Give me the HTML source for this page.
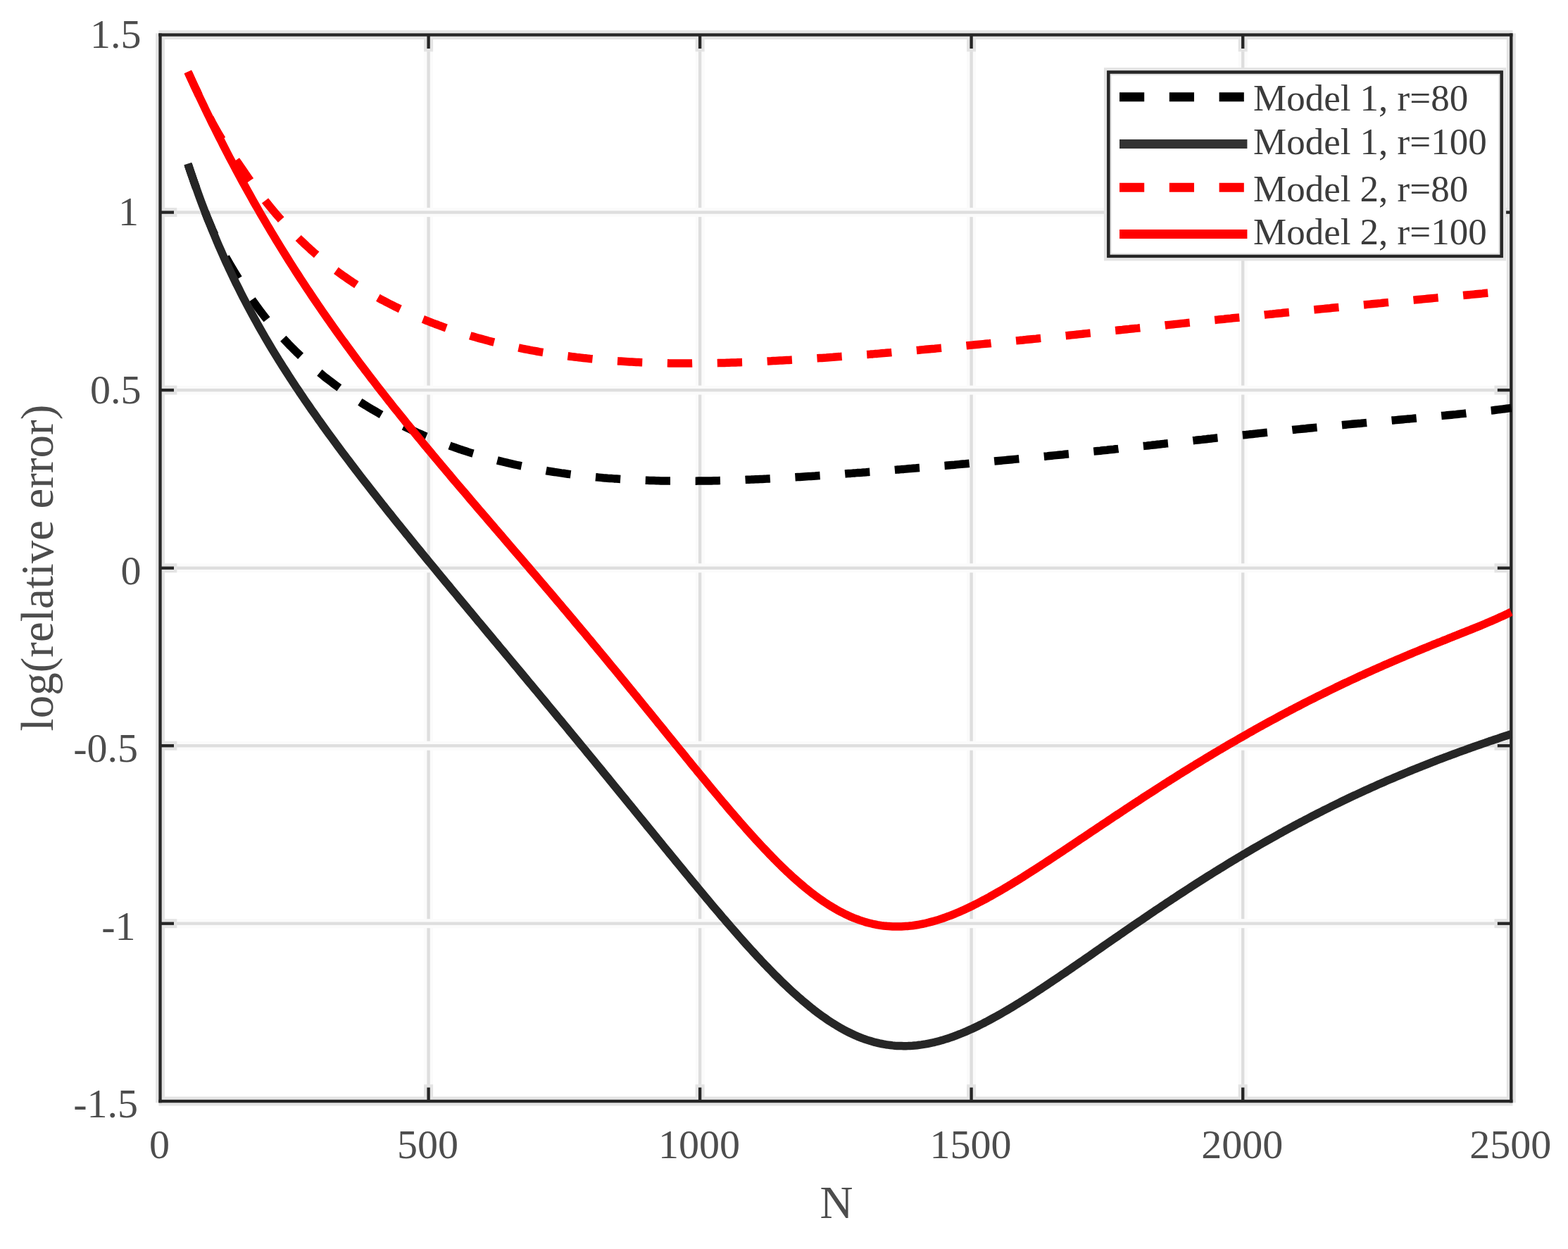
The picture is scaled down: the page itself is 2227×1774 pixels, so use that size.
<!DOCTYPE html>
<html lang="en"><head><meta charset="utf-8"><title>log(relative error) vs N</title>
<style>
html,body{margin:0;padding:0;background:#fff;}
svg{display:block;}
text{font-family:"Liberation Serif","DejaVu Serif",serif;fill:#4d4d4d;}
.tk{font-size:58px;}
.lb{font-size:65px;}
.lg{font-size:53px;fill:#3c3c3c;}
</style></head><body>
<svg xmlns="http://www.w3.org/2000/svg" width="2227" height="1774" viewBox="0 0 2227 1774">
<rect x="0" y="0" width="2227" height="1774" fill="#ffffff"/>
<g id="grid">
<rect x="602.11" y="49.50" width="12.99" height="1514.60" fill="#fbfbfb"/>
<rect x="606.44" y="49.50" width="4.33" height="1514.60" fill="#dedede"/>
<rect x="987.61" y="49.50" width="12.99" height="1514.60" fill="#fbfbfb"/>
<rect x="991.94" y="49.50" width="4.33" height="1514.60" fill="#dedede"/>
<rect x="1373.11" y="49.50" width="12.99" height="1514.60" fill="#fbfbfb"/>
<rect x="1377.43" y="49.50" width="4.33" height="1514.60" fill="#dedede"/>
<rect x="1758.71" y="49.50" width="12.99" height="1514.60" fill="#fbfbfb"/>
<rect x="1763.04" y="49.50" width="4.33" height="1514.60" fill="#dedede"/>
<rect x="227.50" y="295.11" width="1918.80" height="12.99" fill="#fbfbfb"/>
<rect x="227.50" y="299.44" width="1918.80" height="4.33" fill="#dedede"/>
<rect x="227.50" y="547.61" width="1918.80" height="12.99" fill="#fbfbfb"/>
<rect x="227.50" y="551.94" width="1918.80" height="4.33" fill="#dedede"/>
<rect x="227.50" y="800.30" width="1918.80" height="12.99" fill="#fbfbfb"/>
<rect x="227.50" y="804.63" width="1918.80" height="4.33" fill="#dedede"/>
<rect x="227.50" y="1052.71" width="1918.80" height="12.99" fill="#fbfbfb"/>
<rect x="227.50" y="1057.04" width="1918.80" height="4.33" fill="#dedede"/>
<rect x="227.50" y="1305.21" width="1918.80" height="12.99" fill="#fbfbfb"/>
<rect x="227.50" y="1309.54" width="1918.80" height="4.33" fill="#dedede"/>
</g>
<g id="axes">
<rect x="225.34" y="43.01" width="1923.13" height="12.99" fill="#e4e4e4"/>
<rect x="225.34" y="1557.61" width="1923.13" height="12.99" fill="#e4e4e4"/>
<rect x="221.00" y="47.34" width="12.99" height="1518.93" fill="#e4e4e4"/>
<rect x="2139.81" y="47.34" width="12.99" height="1518.93" fill="#e4e4e4"/>
<rect x="602.11" y="49.50" width="12.99" height="23.81" fill="#e4e4e4"/>
<rect x="602.11" y="1540.29" width="12.99" height="23.81" fill="#e4e4e4"/>
<rect x="987.61" y="49.50" width="12.99" height="23.81" fill="#e4e4e4"/>
<rect x="987.61" y="1540.29" width="12.99" height="23.81" fill="#e4e4e4"/>
<rect x="1373.11" y="49.50" width="12.99" height="23.81" fill="#e4e4e4"/>
<rect x="1373.11" y="1540.29" width="12.99" height="23.81" fill="#e4e4e4"/>
<rect x="1758.71" y="49.50" width="12.99" height="23.81" fill="#e4e4e4"/>
<rect x="1758.71" y="1540.29" width="12.99" height="23.81" fill="#e4e4e4"/>
<rect x="227.50" y="295.11" width="23.81" height="12.99" fill="#e4e4e4"/>
<rect x="2122.49" y="295.11" width="23.82" height="12.99" fill="#e4e4e4"/>
<rect x="227.50" y="547.61" width="23.81" height="12.99" fill="#e4e4e4"/>
<rect x="2122.49" y="547.61" width="23.82" height="12.99" fill="#e4e4e4"/>
<rect x="227.50" y="800.30" width="23.81" height="12.99" fill="#e4e4e4"/>
<rect x="2122.49" y="800.30" width="23.82" height="12.99" fill="#e4e4e4"/>
<rect x="227.50" y="1052.71" width="23.81" height="12.99" fill="#e4e4e4"/>
<rect x="2122.49" y="1052.71" width="23.82" height="12.99" fill="#e4e4e4"/>
<rect x="227.50" y="1305.21" width="23.81" height="12.99" fill="#e4e4e4"/>
<rect x="2122.49" y="1305.21" width="23.82" height="12.99" fill="#e4e4e4"/>
<rect x="225.34" y="47.34" width="1923.13" height="4.33" fill="#262626"/>
<rect x="225.34" y="1561.93" width="1923.13" height="4.33" fill="#262626"/>
<rect x="225.34" y="47.34" width="4.33" height="1518.93" fill="#262626"/>
<rect x="2144.14" y="47.34" width="4.33" height="1518.93" fill="#262626"/>
<rect x="606.44" y="49.50" width="4.33" height="19.48" fill="#262626"/>
<rect x="606.44" y="1544.62" width="4.33" height="19.48" fill="#262626"/>
<rect x="991.94" y="49.50" width="4.33" height="19.48" fill="#262626"/>
<rect x="991.94" y="1544.62" width="4.33" height="19.48" fill="#262626"/>
<rect x="1377.43" y="49.50" width="4.33" height="19.48" fill="#262626"/>
<rect x="1377.43" y="1544.62" width="4.33" height="19.48" fill="#262626"/>
<rect x="1763.04" y="49.50" width="4.33" height="19.48" fill="#262626"/>
<rect x="1763.04" y="1544.62" width="4.33" height="19.48" fill="#262626"/>
<rect x="227.50" y="299.44" width="19.48" height="4.33" fill="#262626"/>
<rect x="2126.82" y="299.44" width="19.49" height="4.33" fill="#262626"/>
<rect x="227.50" y="551.94" width="19.48" height="4.33" fill="#262626"/>
<rect x="2126.82" y="551.94" width="19.49" height="4.33" fill="#262626"/>
<rect x="227.50" y="804.63" width="19.48" height="4.33" fill="#262626"/>
<rect x="2126.82" y="804.63" width="19.49" height="4.33" fill="#262626"/>
<rect x="227.50" y="1057.04" width="19.48" height="4.33" fill="#262626"/>
<rect x="2126.82" y="1057.04" width="19.49" height="4.33" fill="#262626"/>
<rect x="227.50" y="1309.54" width="19.48" height="4.33" fill="#262626"/>
<rect x="2126.82" y="1309.54" width="19.49" height="4.33" fill="#262626"/>
</g>
<clipPath id="cp"><rect x="225.34" y="47.34" width="1923.13" height="1518.93"/></clipPath>
<g id="curves" fill="none" stroke-width="11.5" stroke-linejoin="round" clip-path="url(#cp)">
<path d="M266.8,232.5 L269.9,241.9 L273.1,251.1 L276.2,260.2 L279.4,269.0 L282.5,277.7 L285.6,286.2 L288.8,294.5 L291.9,302.6 L295.0,310.5 L298.2,318.1 L301.3,325.5 L304.5,332.6 L307.6,339.5 L310.7,346.0 L313.9,352.3 L317.0,358.4 L320.1,364.2 L323.3,369.7 L326.4,375.1 L329.6,380.4 L332.7,385.6 L335.8,390.7 L339.0,396.0 L342.1,401.1 L345.2,406.2 L348.4,411.1 L351.5,415.9 L354.7,420.6 L357.8,425.2 L360.9,429.7 L364.1,434.1 L367.2,438.4 L370.3,442.6 L373.5,446.7 L376.6,450.7 L379.8,454.7 L382.9,458.5 L386.0,462.3 L389.2,466.0 L392.3,469.6 L395.4,473.2 L398.6,476.7 L401.7,480.1 L404.9,483.5 L408.0,486.8 L411.1,490.1 L414.3,493.3 L417.4,496.4 L420.5,499.5 L423.7,502.5 L426.8,505.5 L430.0,508.5 L433.1,511.4 L436.2,514.2 L439.4,517.0 L442.5,519.7 L445.7,522.4 L448.8,525.1 L451.9,527.7 L455.1,530.3 L458.2,532.9 L461.3,535.4 L464.5,537.9 L467.6,540.3 L470.8,542.7 L473.9,545.1 L477.0,547.4 L480.2,549.7 L483.3,552.0 L486.4,554.2 L489.6,556.4 L492.7,558.6 L495.9,560.7 L499.0,562.9 L502.1,565.0 L505.3,567.0 L508.4,569.0 L511.5,571.0 L514.7,573.0 L517.8,575.0 L521.0,576.9 L524.1,578.8 L527.2,580.7 L530.4,582.5 L533.5,584.3 L536.6,586.1 L539.8,587.9 L542.9,589.7 L546.1,591.4 L549.2,593.1 L552.3,594.8 L555.5,596.4 L558.6,598.1 L561.7,599.7 L564.9,601.3 L568.0,602.8 L571.2,604.4 L574.3,605.9 L577.4,607.4 L580.6,608.9 L583.7,610.4 L586.8,611.8 L590.0,613.3 L593.1,614.7 L596.3,616.1 L599.4,617.4 L602.5,618.8 L605.7,620.1 L608.8,621.4 L612.0,622.7 L615.1,624.0 L618.2,625.3 L621.4,626.5 L624.5,627.7 L627.6,628.9 L630.8,630.1 L633.9,631.3 L637.1,632.4 L640.2,633.6 L643.3,634.7 L646.5,635.8 L649.6,636.9 L652.7,638.0 L655.9,639.0 L659.0,640.1 L662.2,641.1 L665.3,642.1 L668.4,643.1 L671.6,644.1 L674.7,645.0 L677.8,646.0 L681.0,646.9 L684.1,647.8 L687.3,648.7 L690.4,649.6 L693.5,650.5 L696.7,651.3 L699.8,652.2 L702.9,653.0 L706.1,653.8 L709.2,654.6 L712.4,655.4 L715.5,656.2 L718.6,656.9 L721.8,657.7 L724.9,658.4 L728.0,659.1 L731.2,659.8 L734.3,660.5 L737.5,661.2 L740.6,661.9 L743.7,662.5 L746.9,663.2 L750.0,663.8 L753.1,664.4 L756.3,665.0 L759.4,665.6 L762.6,666.2 L765.7,666.8 L768.8,667.4 L772.0,667.9 L775.1,668.4 L778.2,669.0 L781.4,669.5 L784.5,670.0 L787.7,670.5 L790.8,670.9 L793.9,671.4 L797.1,671.9 L800.2,672.3 L803.4,672.8 L806.5,673.2 L809.6,673.6 L812.8,674.0 L815.9,674.4 L819.0,674.8 L822.2,675.2 L825.3,675.5 L828.5,675.9 L831.6,676.2 L834.7,676.6 L837.9,676.9 L841.0,677.2 L844.1,677.5 L847.3,677.8 L850.4,678.1 L853.6,678.4 L856.7,678.7 L859.8,678.9 L863.0,679.2 L866.1,679.4 L869.2,679.6 L872.4,679.9 L875.5,680.1 L878.7,680.3 L881.8,680.5 L884.9,680.7 L888.1,680.9 L891.2,681.1 L894.3,681.2 L897.5,681.4 L900.6,681.6 L903.8,681.7 L906.9,681.9 L910.0,682.0 L913.2,682.1 L916.3,682.2 L919.4,682.3 L922.6,682.4 L925.7,682.5 L928.9,682.6 L932.0,682.7 L935.1,682.8 L938.3,682.9 L941.4,682.9 L944.5,683.0 L947.7,683.0 L950.8,683.1 L954.0,683.1 L957.1,683.2 L960.2,683.2 L963.4,683.2 L966.5,683.2 L969.7,683.2 L972.8,683.2 L975.9,683.2 L979.1,683.2 L982.2,683.2 L985.3,683.2 L988.5,683.2 L991.6,683.1 L994.8,683.1 L997.9,683.1 L1001.0,683.0 L1004.2,683.0 L1007.3,682.9 L1010.4,682.9 L1013.6,682.8 L1016.7,682.7 L1019.9,682.7 L1023.0,682.6 L1026.1,682.5 L1029.3,682.4 L1032.4,682.3 L1035.5,682.2 L1038.7,682.1 L1041.8,682.0 L1045.0,681.9 L1048.1,681.8 L1051.2,681.7 L1054.4,681.6 L1057.5,681.5 L1060.6,681.3 L1063.8,681.2 L1066.9,681.1 L1070.1,680.9 L1073.2,680.8 L1076.3,680.7 L1079.5,680.5 L1082.6,680.4 L1085.7,680.2 L1088.9,680.1 L1092.0,679.9 L1095.2,679.7 L1098.3,679.6 L1101.4,679.4 L1104.6,679.2 L1107.7,679.1 L1110.8,678.9 L1114.0,678.7 L1117.1,678.5 L1120.3,678.3 L1123.4,678.2 L1126.5,678.0 L1129.7,677.8 L1132.8,677.6 L1136.0,677.4 L1139.1,677.2 L1142.2,677.0 L1145.4,676.8 L1148.5,676.6 L1151.6,676.4 L1154.8,676.2 L1157.9,676.0 L1161.1,675.7 L1164.2,675.5 L1167.3,675.3 L1170.5,675.1 L1173.6,674.9 L1176.7,674.7 L1179.9,674.4 L1183.0,674.2 L1186.2,674.0 L1189.3,673.8 L1192.4,673.5 L1195.6,673.3 L1198.7,673.1 L1201.8,672.8 L1205.0,672.6 L1208.1,672.4 L1211.3,672.1 L1214.4,671.9 L1217.5,671.6 L1220.7,671.4 L1223.8,671.2 L1226.9,670.9 L1230.1,670.7 L1233.2,670.4 L1236.4,670.2 L1239.5,669.9 L1242.6,669.7 L1245.8,669.4 L1248.9,669.2 L1252.0,668.9 L1255.2,668.7 L1258.3,668.4 L1261.5,668.2 L1264.6,667.9 L1267.7,667.7 L1270.9,667.4 L1274.0,667.1 L1277.1,666.9 L1280.3,666.6 L1283.4,666.4 L1286.6,666.1 L1289.7,665.8 L1292.8,665.6 L1296.0,665.3 L1299.1,665.1 L1302.3,664.8 L1305.4,664.5 L1308.5,664.3 L1311.7,664.0 L1314.8,663.7 L1317.9,663.4 L1321.1,663.2 L1324.2,662.9 L1327.4,662.6 L1330.5,662.4 L1333.6,662.1 L1336.8,661.8 L1339.9,661.5 L1343.0,661.3 L1346.2,661.0 L1349.3,660.7 L1352.5,660.4 L1355.6,660.2 L1358.7,659.9 L1361.9,659.6 L1365.0,659.3 L1368.1,659.0 L1371.3,658.8 L1374.4,658.5 L1377.6,658.2 L1380.7,657.9 L1383.8,657.6 L1387.0,657.4 L1390.1,657.1 L1393.2,656.8 L1396.4,656.5 L1399.5,656.2 L1402.7,655.9 L1405.8,655.6 L1408.9,655.3 L1412.1,655.1 L1415.2,654.8 L1418.3,654.5 L1421.5,654.2 L1424.6,653.9 L1427.8,653.6 L1430.9,653.3 L1434.0,653.0 L1437.2,652.7 L1440.3,652.4 L1443.4,652.1 L1446.6,651.8 L1449.7,651.5 L1452.9,651.2 L1456.0,650.9 L1459.1,650.6 L1462.3,650.3 L1465.4,650.0 L1468.6,649.7 L1471.7,649.4 L1474.8,649.1 L1478.0,648.8 L1481.1,648.5 L1484.2,648.2 L1487.4,647.9 L1490.5,647.5 L1493.7,647.2 L1496.8,646.9 L1499.9,646.6 L1503.1,646.3 L1506.2,646.0 L1509.3,645.7 L1512.5,645.3 L1515.6,645.0 L1518.8,644.7 L1521.9,644.4 L1525.0,644.1 L1528.2,643.7 L1531.3,643.4 L1534.4,643.1 L1537.6,642.8 L1540.7,642.5 L1543.9,642.1 L1547.0,641.8 L1550.1,641.5 L1553.3,641.1 L1556.4,640.8 L1559.5,640.5 L1562.7,640.2 L1565.8,639.8 L1569.0,639.5 L1572.1,639.2 L1575.2,638.8 L1578.4,638.5 L1581.5,638.2 L1584.6,637.8 L1587.8,637.5 L1590.9,637.1 L1594.1,636.8 L1597.2,636.5 L1600.3,636.1 L1603.5,635.8 L1606.6,635.5 L1609.7,635.1 L1612.9,634.8 L1616.0,634.4 L1619.2,634.1 L1622.3,633.7 L1625.4,633.4 L1628.6,633.1 L1631.7,632.7 L1634.9,632.4 L1638.0,632.0 L1641.1,631.7 L1644.3,631.3 L1647.4,631.0 L1650.5,630.6 L1653.7,630.3 L1656.8,629.9 L1660.0,629.6 L1663.1,629.2 L1666.2,628.9 L1669.4,628.5 L1672.5,628.2 L1675.6,627.8 L1678.8,627.5 L1681.9,627.1 L1685.1,626.8 L1688.2,626.4 L1691.3,626.1 L1694.5,625.7 L1697.6,625.4 L1700.7,625.0 L1703.9,624.7 L1707.0,624.4 L1710.2,624.0 L1713.3,623.7 L1716.4,623.3 L1719.6,623.0 L1722.7,622.6 L1725.8,622.3 L1729.0,621.9 L1732.1,621.6 L1735.3,621.2 L1738.4,620.9 L1741.5,620.5 L1744.7,620.2 L1747.8,619.9 L1750.9,619.5 L1754.1,619.2 L1757.2,618.8 L1760.4,618.5 L1763.5,618.1 L1766.6,617.8 L1769.8,617.5 L1772.9,617.1 L1776.0,616.8 L1779.2,616.5 L1782.3,616.1 L1785.5,615.8 L1788.6,615.4 L1791.7,615.1 L1794.9,614.8 L1798.0,614.4 L1801.1,614.1 L1804.3,613.8 L1807.4,613.5 L1810.6,613.1 L1813.7,612.8 L1816.8,612.5 L1820.0,612.2 L1823.1,611.8 L1826.3,611.5 L1829.4,611.2 L1832.5,610.9 L1835.7,610.5 L1838.8,610.2 L1841.9,609.9 L1845.1,609.6 L1848.2,609.3 L1851.4,609.0 L1854.5,608.7 L1857.6,608.3 L1860.8,608.0 L1863.9,607.7 L1867.0,607.4 L1870.2,607.1 L1873.3,606.8 L1876.5,606.5 L1879.6,606.2 L1882.7,605.9 L1885.9,605.6 L1889.0,605.3 L1892.1,605.0 L1895.3,604.7 L1898.4,604.4 L1901.6,604.1 L1904.7,603.8 L1907.8,603.5 L1911.0,603.2 L1914.1,602.9 L1917.2,602.6 L1920.4,602.3 L1923.5,602.0 L1926.7,601.7 L1929.8,601.4 L1932.9,601.2 L1936.1,600.9 L1939.2,600.6 L1942.3,600.3 L1945.5,600.0 L1948.6,599.7 L1951.8,599.4 L1954.9,599.1 L1958.0,598.9 L1961.2,598.6 L1964.3,598.3 L1967.4,598.0 L1970.6,597.7 L1973.7,597.4 L1976.9,597.1 L1980.0,596.9 L1983.1,596.6 L1986.3,596.3 L1989.4,596.0 L1992.6,595.7 L1995.7,595.4 L1998.8,595.1 L2002.0,594.9 L2005.1,594.6 L2008.2,594.3 L2011.4,594.0 L2014.5,593.7 L2017.7,593.4 L2020.8,593.1 L2023.9,592.8 L2027.1,592.5 L2030.2,592.2 L2033.3,591.9 L2036.5,591.6 L2039.6,591.3 L2042.8,591.0 L2045.9,590.7 L2049.0,590.4 L2052.2,590.1 L2055.3,589.8 L2058.4,589.5 L2061.6,589.2 L2064.7,588.9 L2067.9,588.6 L2071.0,588.2 L2074.1,587.9 L2077.3,587.6 L2080.4,587.3 L2083.5,586.9 L2086.7,586.6 L2089.8,586.3 L2093.0,585.9 L2096.1,585.6 L2099.2,585.2 L2102.4,584.9 L2105.5,584.5 L2108.6,584.2 L2111.8,583.8 L2114.9,583.4 L2118.1,583.1 L2121.2,582.7 L2124.3,582.3 L2127.5,581.9 L2130.6,581.5 L2133.7,581.1 L2136.9,580.7 L2140.0,580.3 L2143.2,579.9 L2146.3,579.5" stroke="#000000" stroke-dasharray="35.3 35.63" stroke-dashoffset="-1.5"/>
<path d="M266.8,232.5 L269.9,241.9 L273.1,251.1 L276.2,260.2 L279.4,269.0 L282.5,277.7 L285.6,286.2 L288.8,294.6 L291.9,302.8 L295.0,310.8 L298.2,318.7 L301.3,326.5 L304.5,334.1 L307.6,341.6 L310.7,348.9 L313.9,356.1 L317.0,363.2 L320.1,370.2 L323.3,377.0 L326.4,383.8 L329.6,390.4 L332.7,396.9 L335.8,403.4 L339.0,409.7 L342.1,416.0 L345.2,422.1 L348.4,428.2 L351.5,434.1 L354.7,440.0 L357.8,445.9 L360.9,451.6 L364.1,457.3 L367.2,462.9 L370.3,468.4 L373.5,473.9 L376.6,479.3 L379.8,484.7 L382.9,490.0 L386.0,495.2 L389.2,500.4 L392.3,505.5 L395.4,510.6 L398.6,515.6 L401.7,520.6 L404.9,525.5 L408.0,530.4 L411.1,535.3 L414.3,540.1 L417.4,544.9 L420.5,549.6 L423.7,554.3 L426.8,559.0 L430.0,563.6 L433.1,568.3 L436.2,572.8 L439.4,577.4 L442.5,581.9 L445.7,586.4 L448.8,590.8 L451.9,595.3 L455.1,599.7 L458.2,604.1 L461.3,608.4 L464.5,612.8 L467.6,617.1 L470.8,621.4 L473.9,625.7 L477.0,629.9 L480.2,634.2 L483.3,638.4 L486.4,642.6 L489.6,646.8 L492.7,650.9 L495.9,655.1 L499.0,659.2 L502.1,663.3 L505.3,667.5 L508.4,671.5 L511.5,675.6 L514.7,679.7 L517.8,683.7 L521.0,687.8 L524.1,691.8 L527.2,695.8 L530.4,699.8 L533.5,703.8 L536.6,707.8 L539.8,711.8 L542.9,715.8 L546.1,719.7 L549.2,723.7 L552.3,727.6 L555.5,731.5 L558.6,735.5 L561.7,739.4 L564.9,743.3 L568.0,747.2 L571.2,751.1 L574.3,754.9 L577.4,758.8 L580.6,762.7 L583.7,766.6 L586.8,770.4 L590.0,774.3 L593.1,778.1 L596.3,782.0 L599.4,785.8 L602.5,789.6 L605.7,793.5 L608.8,797.3 L612.0,801.1 L615.1,804.9 L618.2,808.7 L621.4,812.6 L624.5,816.4 L627.6,820.2 L630.8,824.0 L633.9,827.8 L637.1,831.5 L640.2,835.3 L643.3,839.1 L646.5,842.9 L649.6,846.7 L652.7,850.5 L655.9,854.3 L659.0,858.0 L662.2,861.8 L665.3,865.6 L668.4,869.3 L671.6,873.1 L674.7,876.9 L677.8,880.7 L681.0,884.4 L684.1,888.2 L687.3,892.0 L690.4,895.7 L693.5,899.5 L696.7,903.3 L699.8,907.0 L702.9,910.8 L706.1,914.5 L709.2,918.3 L712.4,922.1 L715.5,925.8 L718.6,929.6 L721.8,933.4 L724.9,937.1 L728.0,940.9 L731.2,944.7 L734.3,948.4 L737.5,952.2 L740.6,956.0 L743.7,959.7 L746.9,963.5 L750.0,967.3 L753.1,971.1 L756.3,974.8 L759.4,978.6 L762.6,982.4 L765.7,986.2 L768.8,989.9 L772.0,993.7 L775.1,997.5 L778.2,1001.3 L781.4,1005.1 L784.5,1008.9 L787.7,1012.7 L790.8,1016.5 L793.9,1020.3 L797.1,1024.0 L800.2,1027.8 L803.4,1031.6 L806.5,1035.4 L809.6,1039.3 L812.8,1043.1 L815.9,1046.9 L819.0,1050.7 L822.2,1054.5 L825.3,1058.3 L828.5,1062.1 L831.6,1065.9 L834.7,1069.8 L837.9,1073.6 L841.0,1077.4 L844.1,1081.2 L847.3,1085.1 L850.4,1088.9 L853.6,1092.7 L856.7,1096.6 L859.8,1100.4 L863.0,1104.2 L866.1,1108.1 L869.2,1111.9 L872.4,1115.8 L875.5,1119.6 L878.7,1123.5 L881.8,1127.3 L884.9,1131.1 L888.1,1135.0 L891.2,1138.8 L894.3,1142.7 L897.5,1146.5 L900.6,1150.4 L903.8,1154.3 L906.9,1158.1 L910.0,1162.0 L913.2,1165.8 L916.3,1169.7 L919.4,1173.5 L922.6,1177.4 L925.7,1181.2 L928.9,1185.1 L932.0,1188.9 L935.1,1192.8 L938.3,1196.6 L941.4,1200.5 L944.5,1204.3 L947.7,1208.2 L950.8,1212.0 L954.0,1215.9 L957.1,1219.7 L960.2,1223.5 L963.4,1227.4 L966.5,1231.2 L969.7,1235.0 L972.8,1238.8 L975.9,1242.6 L979.1,1246.4 L982.2,1250.3 L985.3,1254.0 L988.5,1257.8 L991.6,1261.6 L994.8,1265.4 L997.9,1269.2 L1001.0,1272.9 L1004.2,1276.7 L1007.3,1280.4 L1010.4,1284.2 L1013.6,1287.9 L1016.7,1291.6 L1019.9,1295.3 L1023.0,1299.0 L1026.1,1302.7 L1029.3,1306.3 L1032.4,1310.0 L1035.5,1313.6 L1038.7,1317.2 L1041.8,1320.8 L1045.0,1324.4 L1048.1,1328.0 L1051.2,1331.5 L1054.4,1335.1 L1057.5,1338.6 L1060.6,1342.1 L1063.8,1345.6 L1066.9,1349.0 L1070.1,1352.5 L1073.2,1355.9 L1076.3,1359.3 L1079.5,1362.6 L1082.6,1366.0 L1085.7,1369.3 L1088.9,1372.5 L1092.0,1375.8 L1095.2,1379.0 L1098.3,1382.2 L1101.4,1385.4 L1104.6,1388.5 L1107.7,1391.6 L1110.8,1394.7 L1114.0,1397.7 L1117.1,1400.7 L1120.3,1403.7 L1123.4,1406.6 L1126.5,1409.4 L1129.7,1412.3 L1132.8,1415.1 L1136.0,1417.8 L1139.1,1420.6 L1142.2,1423.2 L1145.4,1425.8 L1148.5,1428.4 L1151.6,1431.0 L1154.8,1433.4 L1157.9,1435.9 L1161.1,1438.3 L1164.2,1440.6 L1167.3,1442.9 L1170.5,1445.1 L1173.6,1447.3 L1176.7,1449.4 L1179.9,1451.5 L1183.0,1453.5 L1186.2,1455.4 L1189.3,1457.3 L1192.4,1459.2 L1195.6,1461.0 L1198.7,1462.7 L1201.8,1464.4 L1205.0,1466.0 L1208.1,1467.5 L1211.3,1469.0 L1214.4,1470.4 L1217.5,1471.8 L1220.7,1473.1 L1223.8,1474.3 L1226.9,1475.5 L1230.1,1476.6 L1233.2,1477.6 L1236.4,1478.6 L1239.5,1479.5 L1242.6,1480.4 L1245.8,1481.1 L1248.9,1481.9 L1252.0,1482.5 L1255.2,1483.1 L1258.3,1483.7 L1261.5,1484.1 L1264.6,1484.5 L1267.7,1484.9 L1270.9,1485.2 L1274.0,1485.4 L1277.1,1485.5 L1280.3,1485.6 L1283.4,1485.7 L1286.6,1485.7 L1289.7,1485.6 L1292.8,1485.4 L1296.0,1485.3 L1299.1,1485.0 L1302.3,1484.7 L1305.4,1484.3 L1308.5,1483.9 L1311.7,1483.4 L1314.8,1482.9 L1317.9,1482.3 L1321.1,1481.7 L1324.2,1481.0 L1327.4,1480.3 L1330.5,1479.5 L1333.6,1478.7 L1336.8,1477.8 L1339.9,1476.9 L1343.0,1475.9 L1346.2,1474.9 L1349.3,1473.9 L1352.5,1472.8 L1355.6,1471.6 L1358.7,1470.5 L1361.9,1469.2 L1365.0,1468.0 L1368.1,1466.7 L1371.3,1465.4 L1374.4,1464.0 L1377.6,1462.6 L1380.7,1461.2 L1383.8,1459.7 L1387.0,1458.2 L1390.1,1456.7 L1393.2,1455.1 L1396.4,1453.6 L1399.5,1451.9 L1402.7,1450.3 L1405.8,1448.6 L1408.9,1446.9 L1412.1,1445.2 L1415.2,1443.5 L1418.3,1441.7 L1421.5,1439.9 L1424.6,1438.1 L1427.8,1436.3 L1430.9,1434.5 L1434.0,1432.6 L1437.2,1430.7 L1440.3,1428.8 L1443.4,1426.9 L1446.6,1425.0 L1449.7,1423.0 L1452.9,1421.1 L1456.0,1419.1 L1459.1,1417.1 L1462.3,1415.1 L1465.4,1413.1 L1468.6,1411.0 L1471.7,1409.0 L1474.8,1406.9 L1478.0,1404.9 L1481.1,1402.8 L1484.2,1400.7 L1487.4,1398.6 L1490.5,1396.5 L1493.7,1394.4 L1496.8,1392.3 L1499.9,1390.2 L1503.1,1388.1 L1506.2,1385.9 L1509.3,1383.8 L1512.5,1381.7 L1515.6,1379.5 L1518.8,1377.4 L1521.9,1375.2 L1525.0,1373.0 L1528.2,1370.9 L1531.3,1368.7 L1534.4,1366.6 L1537.6,1364.4 L1540.7,1362.2 L1543.9,1360.0 L1547.0,1357.9 L1550.1,1355.7 L1553.3,1353.5 L1556.4,1351.3 L1559.5,1349.1 L1562.7,1347.0 L1565.8,1344.8 L1569.0,1342.6 L1572.1,1340.4 L1575.2,1338.3 L1578.4,1336.1 L1581.5,1333.9 L1584.6,1331.7 L1587.8,1329.6 L1590.9,1327.4 L1594.1,1325.2 L1597.2,1323.1 L1600.3,1320.9 L1603.5,1318.7 L1606.6,1316.6 L1609.7,1314.4 L1612.9,1312.3 L1616.0,1310.1 L1619.2,1308.0 L1622.3,1305.9 L1625.4,1303.7 L1628.6,1301.6 L1631.7,1299.5 L1634.9,1297.3 L1638.0,1295.2 L1641.1,1293.1 L1644.3,1291.0 L1647.4,1288.9 L1650.5,1286.8 L1653.7,1284.7 L1656.8,1282.6 L1660.0,1280.5 L1663.1,1278.4 L1666.2,1276.3 L1669.4,1274.3 L1672.5,1272.2 L1675.6,1270.2 L1678.8,1268.1 L1681.9,1266.1 L1685.1,1264.0 L1688.2,1262.0 L1691.3,1259.9 L1694.5,1257.9 L1697.6,1255.9 L1700.7,1253.9 L1703.9,1251.9 L1707.0,1249.9 L1710.2,1247.9 L1713.3,1245.9 L1716.4,1243.9 L1719.6,1242.0 L1722.7,1240.0 L1725.8,1238.0 L1729.0,1236.1 L1732.1,1234.1 L1735.3,1232.2 L1738.4,1230.3 L1741.5,1228.4 L1744.7,1226.4 L1747.8,1224.5 L1750.9,1222.6 L1754.1,1220.7 L1757.2,1218.8 L1760.4,1217.0 L1763.5,1215.1 L1766.6,1213.2 L1769.8,1211.4 L1772.9,1209.5 L1776.0,1207.7 L1779.2,1205.8 L1782.3,1204.0 L1785.5,1202.2 L1788.6,1200.4 L1791.7,1198.6 L1794.9,1196.8 L1798.0,1195.0 L1801.1,1193.2 L1804.3,1191.4 L1807.4,1189.7 L1810.6,1187.9 L1813.7,1186.2 L1816.8,1184.4 L1820.0,1182.7 L1823.1,1180.9 L1826.3,1179.2 L1829.4,1177.5 L1832.5,1175.8 L1835.7,1174.1 L1838.8,1172.4 L1841.9,1170.7 L1845.1,1169.1 L1848.2,1167.4 L1851.4,1165.8 L1854.5,1164.1 L1857.6,1162.5 L1860.8,1160.8 L1863.9,1159.2 L1867.0,1157.6 L1870.2,1156.0 L1873.3,1154.4 L1876.5,1152.8 L1879.6,1151.2 L1882.7,1149.6 L1885.9,1148.1 L1889.0,1146.5 L1892.1,1144.9 L1895.3,1143.4 L1898.4,1141.9 L1901.6,1140.3 L1904.7,1138.8 L1907.8,1137.3 L1911.0,1135.8 L1914.1,1134.3 L1917.2,1132.8 L1920.4,1131.3 L1923.5,1129.8 L1926.7,1128.4 L1929.8,1126.9 L1932.9,1125.5 L1936.1,1124.0 L1939.2,1122.6 L1942.3,1121.2 L1945.5,1119.7 L1948.6,1118.3 L1951.8,1116.9 L1954.9,1115.5 L1958.0,1114.1 L1961.2,1112.7 L1964.3,1111.4 L1967.4,1110.0 L1970.6,1108.6 L1973.7,1107.3 L1976.9,1105.9 L1980.0,1104.6 L1983.1,1103.3 L1986.3,1101.9 L1989.4,1100.6 L1992.6,1099.3 L1995.7,1098.0 L1998.8,1096.7 L2002.0,1095.4 L2005.1,1094.1 L2008.2,1092.8 L2011.4,1091.6 L2014.5,1090.3 L2017.7,1089.1 L2020.8,1087.8 L2023.9,1086.6 L2027.1,1085.3 L2030.2,1084.1 L2033.3,1082.9 L2036.5,1081.7 L2039.6,1080.4 L2042.8,1079.2 L2045.9,1078.0 L2049.0,1076.9 L2052.2,1075.7 L2055.3,1074.5 L2058.4,1073.3 L2061.6,1072.1 L2064.7,1071.0 L2067.9,1069.8 L2071.0,1068.7 L2074.1,1067.5 L2077.3,1066.4 L2080.4,1065.3 L2083.5,1064.1 L2086.7,1063.0 L2089.8,1061.9 L2093.0,1060.8 L2096.1,1059.7 L2099.2,1058.6 L2102.4,1057.5 L2105.5,1056.4 L2108.6,1055.3 L2111.8,1054.2 L2114.9,1053.1 L2118.1,1052.1 L2121.2,1051.0 L2124.3,1049.9 L2127.5,1048.9 L2130.6,1047.8 L2133.7,1046.8 L2136.9,1045.7 L2140.0,1044.7 L2143.2,1043.7 L2146.3,1042.6" stroke="#262626"/>
<path d="M266.8,101.8 L269.9,108.7 L273.1,115.6 L276.2,122.4 L279.4,129.1 L282.5,135.8 L285.6,142.4 L288.8,149.0 L291.9,155.4 L295.0,161.6 L298.2,167.7 L301.3,173.7 L304.5,179.5 L307.6,185.0 L310.7,190.5 L313.9,195.7 L317.0,200.8 L320.1,205.7 L323.3,210.4 L326.4,215.0 L329.6,219.5 L332.7,223.9 L335.8,228.3 L339.0,232.7 L342.1,237.2 L345.2,241.8 L348.4,246.5 L351.5,251.0 L354.7,255.5 L357.8,260.0 L360.9,264.3 L364.1,268.6 L367.2,272.8 L370.3,277.0 L373.5,281.0 L376.6,285.1 L379.8,289.0 L382.9,292.9 L386.0,296.7 L389.2,300.5 L392.3,304.2 L395.4,307.8 L398.6,311.4 L401.7,314.9 L404.9,318.3 L408.0,321.7 L411.1,325.1 L414.3,328.4 L417.4,331.6 L420.5,334.8 L423.7,337.9 L426.8,341.0 L430.0,344.0 L433.1,347.0 L436.2,349.9 L439.4,352.8 L442.5,355.7 L445.7,358.5 L448.8,361.2 L451.9,363.9 L455.1,366.6 L458.2,369.2 L461.3,371.7 L464.5,374.3 L467.6,376.8 L470.8,379.2 L473.9,381.6 L477.0,384.0 L480.2,386.3 L483.3,388.6 L486.4,390.9 L489.6,393.1 L492.7,395.3 L495.9,397.5 L499.0,399.6 L502.1,401.7 L505.3,403.7 L508.4,405.8 L511.5,407.7 L514.7,409.7 L517.8,411.6 L521.0,413.5 L524.1,415.4 L527.2,417.3 L530.4,419.1 L533.5,420.9 L536.6,422.6 L539.8,424.4 L542.9,426.1 L546.1,427.7 L549.2,429.4 L552.3,431.0 L555.5,432.6 L558.6,434.2 L561.7,435.8 L564.9,437.3 L568.0,438.8 L571.2,440.3 L574.3,441.8 L577.4,443.2 L580.6,444.6 L583.7,446.0 L586.8,447.4 L590.0,448.8 L593.1,450.1 L596.3,451.5 L599.4,452.8 L602.5,454.0 L605.7,455.3 L608.8,456.5 L612.0,457.8 L615.1,459.0 L618.2,460.2 L621.4,461.3 L624.5,462.5 L627.6,463.6 L630.8,464.8 L633.9,465.9 L637.1,467.0 L640.2,468.0 L643.3,469.1 L646.5,470.1 L649.6,471.2 L652.7,472.2 L655.9,473.2 L659.0,474.1 L662.2,475.1 L665.3,476.0 L668.4,477.0 L671.6,477.9 L674.7,478.8 L677.8,479.7 L681.0,480.6 L684.1,481.4 L687.3,482.3 L690.4,483.1 L693.5,484.0 L696.7,484.8 L699.8,485.6 L702.9,486.4 L706.1,487.1 L709.2,487.9 L712.4,488.6 L715.5,489.4 L718.6,490.1 L721.8,490.8 L724.9,491.5 L728.0,492.2 L731.2,492.9 L734.3,493.5 L737.5,494.2 L740.6,494.8 L743.7,495.5 L746.9,496.1 L750.0,496.7 L753.1,497.3 L756.3,497.9 L759.4,498.4 L762.6,499.0 L765.7,499.6 L768.8,500.1 L772.0,500.6 L775.1,501.1 L778.2,501.7 L781.4,502.2 L784.5,502.6 L787.7,503.1 L790.8,503.6 L793.9,504.1 L797.1,504.5 L800.2,504.9 L803.4,505.4 L806.5,505.8 L809.6,506.2 L812.8,506.6 L815.9,507.0 L819.0,507.4 L822.2,507.7 L825.3,508.1 L828.5,508.5 L831.6,508.8 L834.7,509.1 L837.9,509.5 L841.0,509.8 L844.1,510.1 L847.3,510.4 L850.4,510.7 L853.6,511.0 L856.7,511.2 L859.8,511.5 L863.0,511.8 L866.1,512.0 L869.2,512.2 L872.4,512.5 L875.5,512.7 L878.7,512.9 L881.8,513.1 L884.9,513.3 L888.1,513.5 L891.2,513.7 L894.3,513.9 L897.5,514.0 L900.6,514.2 L903.8,514.4 L906.9,514.5 L910.0,514.7 L913.2,514.8 L916.3,514.9 L919.4,515.0 L922.6,515.1 L925.7,515.3 L928.9,515.3 L932.0,515.4 L935.1,515.5 L938.3,515.6 L941.4,515.7 L944.5,515.7 L947.7,515.8 L950.8,515.9 L954.0,515.9 L957.1,515.9 L960.2,516.0 L963.4,516.0 L966.5,516.0 L969.7,516.0 L972.8,516.1 L975.9,516.1 L979.1,516.1 L982.2,516.1 L985.3,516.0 L988.5,516.0 L991.6,516.0 L994.8,516.0 L997.9,516.0 L1001.0,515.9 L1004.2,515.9 L1007.3,515.8 L1010.4,515.8 L1013.6,515.7 L1016.7,515.7 L1019.9,515.6 L1023.0,515.5 L1026.1,515.4 L1029.3,515.4 L1032.4,515.3 L1035.5,515.2 L1038.7,515.1 L1041.8,515.0 L1045.0,514.9 L1048.1,514.8 L1051.2,514.7 L1054.4,514.6 L1057.5,514.5 L1060.6,514.3 L1063.8,514.2 L1066.9,514.1 L1070.1,514.0 L1073.2,513.8 L1076.3,513.7 L1079.5,513.5 L1082.6,513.4 L1085.7,513.3 L1088.9,513.1 L1092.0,512.9 L1095.2,512.8 L1098.3,512.6 L1101.4,512.5 L1104.6,512.3 L1107.7,512.1 L1110.8,512.0 L1114.0,511.8 L1117.1,511.6 L1120.3,511.4 L1123.4,511.2 L1126.5,511.0 L1129.7,510.9 L1132.8,510.7 L1136.0,510.5 L1139.1,510.3 L1142.2,510.1 L1145.4,509.9 L1148.5,509.7 L1151.6,509.5 L1154.8,509.3 L1157.9,509.0 L1161.1,508.8 L1164.2,508.6 L1167.3,508.4 L1170.5,508.2 L1173.6,508.0 L1176.7,507.7 L1179.9,507.5 L1183.0,507.3 L1186.2,507.0 L1189.3,506.8 L1192.4,506.6 L1195.6,506.3 L1198.7,506.1 L1201.8,505.9 L1205.0,505.6 L1208.1,505.4 L1211.3,505.1 L1214.4,504.9 L1217.5,504.6 L1220.7,504.4 L1223.8,504.1 L1226.9,503.9 L1230.1,503.6 L1233.2,503.4 L1236.4,503.1 L1239.5,502.9 L1242.6,502.6 L1245.8,502.4 L1248.9,502.1 L1252.0,501.8 L1255.2,501.6 L1258.3,501.3 L1261.5,501.0 L1264.6,500.8 L1267.7,500.5 L1270.9,500.2 L1274.0,499.9 L1277.1,499.7 L1280.3,499.4 L1283.4,499.1 L1286.6,498.8 L1289.7,498.6 L1292.8,498.3 L1296.0,498.0 L1299.1,497.7 L1302.3,497.4 L1305.4,497.2 L1308.5,496.9 L1311.7,496.6 L1314.8,496.3 L1317.9,496.0 L1321.1,495.7 L1324.2,495.4 L1327.4,495.2 L1330.5,494.9 L1333.6,494.6 L1336.8,494.3 L1339.9,494.0 L1343.0,493.7 L1346.2,493.4 L1349.3,493.1 L1352.5,492.8 L1355.6,492.5 L1358.7,492.2 L1361.9,491.9 L1365.0,491.6 L1368.1,491.3 L1371.3,491.0 L1374.4,490.7 L1377.6,490.4 L1380.7,490.1 L1383.8,489.8 L1387.0,489.5 L1390.1,489.2 L1393.2,488.9 L1396.4,488.6 L1399.5,488.3 L1402.7,488.0 L1405.8,487.7 L1408.9,487.3 L1412.1,487.0 L1415.2,486.7 L1418.3,486.4 L1421.5,486.1 L1424.6,485.8 L1427.8,485.5 L1430.9,485.2 L1434.0,484.9 L1437.2,484.5 L1440.3,484.2 L1443.4,483.9 L1446.6,483.6 L1449.7,483.3 L1452.9,483.0 L1456.0,482.6 L1459.1,482.3 L1462.3,482.0 L1465.4,481.7 L1468.6,481.4 L1471.7,481.1 L1474.8,480.7 L1478.0,480.4 L1481.1,480.1 L1484.2,479.8 L1487.4,479.5 L1490.5,479.1 L1493.7,478.8 L1496.8,478.5 L1499.9,478.2 L1503.1,477.8 L1506.2,477.5 L1509.3,477.2 L1512.5,476.9 L1515.6,476.6 L1518.8,476.2 L1521.9,475.9 L1525.0,475.6 L1528.2,475.3 L1531.3,474.9 L1534.4,474.6 L1537.6,474.3 L1540.7,473.9 L1543.9,473.6 L1547.0,473.3 L1550.1,473.0 L1553.3,472.6 L1556.4,472.3 L1559.5,472.0 L1562.7,471.7 L1565.8,471.3 L1569.0,471.0 L1572.1,470.7 L1575.2,470.3 L1578.4,470.0 L1581.5,469.7 L1584.6,469.4 L1587.8,469.0 L1590.9,468.7 L1594.1,468.4 L1597.2,468.0 L1600.3,467.7 L1603.5,467.4 L1606.6,467.0 L1609.7,466.7 L1612.9,466.4 L1616.0,466.1 L1619.2,465.7 L1622.3,465.4 L1625.4,465.1 L1628.6,464.7 L1631.7,464.4 L1634.9,464.1 L1638.0,463.7 L1641.1,463.4 L1644.3,463.1 L1647.4,462.7 L1650.5,462.4 L1653.7,462.1 L1656.8,461.7 L1660.0,461.4 L1663.1,461.1 L1666.2,460.8 L1669.4,460.4 L1672.5,460.1 L1675.6,459.8 L1678.8,459.4 L1681.9,459.1 L1685.1,458.8 L1688.2,458.4 L1691.3,458.1 L1694.5,457.8 L1697.6,457.4 L1700.7,457.1 L1703.9,456.8 L1707.0,456.5 L1710.2,456.1 L1713.3,455.8 L1716.4,455.5 L1719.6,455.1 L1722.7,454.8 L1725.8,454.5 L1729.0,454.1 L1732.1,453.8 L1735.3,453.5 L1738.4,453.2 L1741.5,452.8 L1744.7,452.5 L1747.8,452.2 L1750.9,451.8 L1754.1,451.5 L1757.2,451.2 L1760.4,450.9 L1763.5,450.5 L1766.6,450.2 L1769.8,449.9 L1772.9,449.5 L1776.0,449.2 L1779.2,448.9 L1782.3,448.6 L1785.5,448.2 L1788.6,447.9 L1791.7,447.6 L1794.9,447.3 L1798.0,446.9 L1801.1,446.6 L1804.3,446.3 L1807.4,446.0 L1810.6,445.6 L1813.7,445.3 L1816.8,445.0 L1820.0,444.7 L1823.1,444.3 L1826.3,444.0 L1829.4,443.7 L1832.5,443.4 L1835.7,443.1 L1838.8,442.7 L1841.9,442.4 L1845.1,442.1 L1848.2,441.8 L1851.4,441.5 L1854.5,441.1 L1857.6,440.8 L1860.8,440.5 L1863.9,440.2 L1867.0,439.9 L1870.2,439.5 L1873.3,439.2 L1876.5,438.9 L1879.6,438.6 L1882.7,438.3 L1885.9,438.0 L1889.0,437.7 L1892.1,437.3 L1895.3,437.0 L1898.4,436.7 L1901.6,436.4 L1904.7,436.1 L1907.8,435.8 L1911.0,435.5 L1914.1,435.2 L1917.2,434.8 L1920.4,434.5 L1923.5,434.2 L1926.7,433.9 L1929.8,433.6 L1932.9,433.3 L1936.1,433.0 L1939.2,432.7 L1942.3,432.4 L1945.5,432.1 L1948.6,431.8 L1951.8,431.5 L1954.9,431.2 L1958.0,430.9 L1961.2,430.6 L1964.3,430.2 L1967.4,429.9 L1970.6,429.6 L1973.7,429.3 L1976.9,429.0 L1980.0,428.7 L1983.1,428.4 L1986.3,428.1 L1989.4,427.8 L1992.6,427.5 L1995.7,427.3 L1998.8,427.0 L2002.0,426.7 L2005.1,426.4 L2008.2,426.1 L2011.4,425.8 L2014.5,425.5 L2017.7,425.2 L2020.8,424.9 L2023.9,424.6 L2027.1,424.3 L2030.2,424.0 L2033.3,423.7 L2036.5,423.4 L2039.6,423.1 L2042.8,422.8 L2045.9,422.6 L2049.0,422.3 L2052.2,422.0 L2055.3,421.7 L2058.4,421.4 L2061.6,421.1 L2064.7,420.8 L2067.9,420.5 L2071.0,420.2 L2074.1,419.9 L2077.3,419.6 L2080.4,419.3 L2083.5,419.0 L2086.7,418.7 L2089.8,418.4 L2093.0,418.1 L2096.1,417.8 L2099.2,417.5 L2102.4,417.2 L2105.5,416.9 L2108.6,416.5 L2111.8,416.2 L2114.9,415.9 L2118.1,415.5 L2121.2,415.2 L2124.3,414.8 L2127.5,414.5 L2130.6,414.1 L2133.7,413.7 L2136.9,413.3 L2140.0,412.8 L2143.2,412.4 L2146.3,411.9" stroke="#ff0000" stroke-dasharray="35.3 35.63" stroke-dashoffset="-1.5"/>
<path d="M266.8,101.8 L269.9,108.7 L273.1,115.6 L276.2,122.4 L279.4,129.1 L282.5,135.8 L285.6,142.4 L288.8,149.0 L291.9,155.6 L295.0,162.1 L298.2,168.5 L301.3,174.9 L304.5,181.2 L307.6,187.5 L310.7,193.8 L313.9,199.9 L317.0,206.1 L320.1,212.2 L323.3,218.3 L326.4,224.3 L329.6,230.2 L332.7,236.2 L335.8,242.0 L339.0,247.9 L342.1,253.7 L345.2,259.4 L348.4,265.1 L351.5,270.8 L354.7,276.4 L357.8,282.0 L360.9,287.6 L364.1,293.1 L367.2,298.5 L370.3,304.0 L373.5,309.4 L376.6,314.7 L379.8,320.1 L382.9,325.3 L386.0,330.6 L389.2,335.8 L392.3,341.0 L395.4,346.1 L398.6,351.2 L401.7,356.3 L404.9,361.4 L408.0,366.4 L411.1,371.4 L414.3,376.3 L417.4,381.2 L420.5,386.1 L423.7,391.0 L426.8,395.8 L430.0,400.6 L433.1,405.4 L436.2,410.1 L439.4,414.8 L442.5,419.5 L445.7,424.2 L448.8,428.8 L451.9,433.4 L455.1,438.0 L458.2,442.6 L461.3,447.1 L464.5,451.6 L467.6,456.1 L470.8,460.6 L473.9,465.0 L477.0,469.4 L480.2,473.8 L483.3,478.2 L486.4,482.5 L489.6,486.8 L492.7,491.1 L495.9,495.4 L499.0,499.7 L502.1,503.9 L505.3,508.2 L508.4,512.4 L511.5,516.6 L514.7,520.7 L517.8,524.9 L521.0,529.0 L524.1,533.1 L527.2,537.2 L530.4,541.3 L533.5,545.4 L536.6,549.4 L539.8,553.5 L542.9,557.5 L546.1,561.5 L549.2,565.5 L552.3,569.5 L555.5,573.4 L558.6,577.4 L561.7,581.3 L564.9,585.2 L568.0,589.1 L571.2,593.0 L574.3,596.9 L577.4,600.8 L580.6,604.7 L583.7,608.5 L586.8,612.4 L590.0,616.2 L593.1,620.0 L596.3,623.9 L599.4,627.7 L602.5,631.5 L605.7,635.3 L608.8,639.0 L612.0,642.8 L615.1,646.6 L618.2,650.3 L621.4,654.1 L624.5,657.8 L627.6,661.6 L630.8,665.3 L633.9,669.0 L637.1,672.7 L640.2,676.5 L643.3,680.2 L646.5,683.9 L649.6,687.6 L652.7,691.3 L655.9,695.0 L659.0,698.6 L662.2,702.3 L665.3,706.0 L668.4,709.7 L671.6,713.4 L674.7,717.0 L677.8,720.7 L681.0,724.4 L684.1,728.0 L687.3,731.7 L690.4,735.3 L693.5,739.0 L696.7,742.7 L699.8,746.3 L702.9,750.0 L706.1,753.6 L709.2,757.3 L712.4,760.9 L715.5,764.6 L718.6,768.2 L721.8,771.9 L724.9,775.6 L728.0,779.2 L731.2,782.9 L734.3,786.5 L737.5,790.2 L740.6,793.8 L743.7,797.5 L746.9,801.2 L750.0,804.8 L753.1,808.5 L756.3,812.2 L759.4,815.8 L762.6,819.5 L765.7,823.2 L768.8,826.9 L772.0,830.6 L775.1,834.2 L778.2,837.9 L781.4,841.6 L784.5,845.3 L787.7,849.0 L790.8,852.7 L793.9,856.4 L797.1,860.1 L800.2,863.9 L803.4,867.6 L806.5,871.3 L809.6,875.0 L812.8,878.7 L815.9,882.5 L819.0,886.2 L822.2,890.0 L825.3,893.7 L828.5,897.4 L831.6,901.2 L834.7,905.0 L837.9,908.7 L841.0,912.5 L844.1,916.3 L847.3,920.0 L850.4,923.8 L853.6,927.6 L856.7,931.4 L859.8,935.2 L863.0,939.0 L866.1,942.8 L869.2,946.6 L872.4,950.4 L875.5,954.2 L878.7,958.0 L881.8,961.9 L884.9,965.7 L888.1,969.5 L891.2,973.3 L894.3,977.2 L897.5,981.0 L900.6,984.9 L903.8,988.7 L906.9,992.6 L910.0,996.4 L913.2,1000.3 L916.3,1004.1 L919.4,1008.0 L922.6,1011.8 L925.7,1015.7 L928.9,1019.6 L932.0,1023.4 L935.1,1027.3 L938.3,1031.2 L941.4,1035.0 L944.5,1038.9 L947.7,1042.8 L950.8,1046.7 L954.0,1050.5 L957.1,1054.4 L960.2,1058.3 L963.4,1062.1 L966.5,1066.0 L969.7,1069.8 L972.8,1073.7 L975.9,1077.6 L979.1,1081.4 L982.2,1085.3 L985.3,1089.1 L988.5,1092.9 L991.6,1096.8 L994.8,1100.6 L997.9,1104.4 L1001.0,1108.2 L1004.2,1112.0 L1007.3,1115.8 L1010.4,1119.6 L1013.6,1123.4 L1016.7,1127.1 L1019.9,1130.9 L1023.0,1134.6 L1026.1,1138.4 L1029.3,1142.1 L1032.4,1145.8 L1035.5,1149.5 L1038.7,1153.2 L1041.8,1156.8 L1045.0,1160.5 L1048.1,1164.1 L1051.2,1167.7 L1054.4,1171.3 L1057.5,1174.8 L1060.6,1178.4 L1063.8,1181.9 L1066.9,1185.4 L1070.1,1188.9 L1073.2,1192.3 L1076.3,1195.7 L1079.5,1199.1 L1082.6,1202.5 L1085.7,1205.8 L1088.9,1209.1 L1092.0,1212.4 L1095.2,1215.6 L1098.3,1218.9 L1101.4,1222.0 L1104.6,1225.2 L1107.7,1228.3 L1110.8,1231.3 L1114.0,1234.4 L1117.1,1237.4 L1120.3,1240.3 L1123.4,1243.2 L1126.5,1246.1 L1129.7,1248.9 L1132.8,1251.6 L1136.0,1254.4 L1139.1,1257.0 L1142.2,1259.7 L1145.4,1262.2 L1148.5,1264.8 L1151.6,1267.2 L1154.8,1269.7 L1157.9,1272.0 L1161.1,1274.4 L1164.2,1276.6 L1167.3,1278.8 L1170.5,1281.0 L1173.6,1283.0 L1176.7,1285.1 L1179.9,1287.0 L1183.0,1288.9 L1186.2,1290.8 L1189.3,1292.6 L1192.4,1294.3 L1195.6,1295.9 L1198.7,1297.5 L1201.8,1299.1 L1205.0,1300.5 L1208.1,1301.9 L1211.3,1303.3 L1214.4,1304.5 L1217.5,1305.7 L1220.7,1306.9 L1223.8,1307.9 L1226.9,1308.9 L1230.1,1309.9 L1233.2,1310.7 L1236.4,1311.5 L1239.5,1312.3 L1242.6,1312.9 L1245.8,1313.6 L1248.9,1314.1 L1252.0,1314.6 L1255.2,1315.0 L1258.3,1315.3 L1261.5,1315.6 L1264.6,1315.8 L1267.7,1316.0 L1270.9,1316.1 L1274.0,1316.1 L1277.1,1316.1 L1280.3,1316.0 L1283.4,1315.8 L1286.6,1315.6 L1289.7,1315.4 L1292.8,1315.0 L1296.0,1314.7 L1299.1,1314.2 L1302.3,1313.7 L1305.4,1313.2 L1308.5,1312.6 L1311.7,1312.0 L1314.8,1311.3 L1317.9,1310.5 L1321.1,1309.7 L1324.2,1308.9 L1327.4,1308.0 L1330.5,1307.1 L1333.6,1306.1 L1336.8,1305.1 L1339.9,1304.0 L1343.0,1302.9 L1346.2,1301.7 L1349.3,1300.6 L1352.5,1299.3 L1355.6,1298.1 L1358.7,1296.8 L1361.9,1295.4 L1365.0,1294.1 L1368.1,1292.7 L1371.3,1291.2 L1374.4,1289.8 L1377.6,1288.3 L1380.7,1286.8 L1383.8,1285.2 L1387.0,1283.6 L1390.1,1282.0 L1393.2,1280.4 L1396.4,1278.7 L1399.5,1277.1 L1402.7,1275.4 L1405.8,1273.6 L1408.9,1271.9 L1412.1,1270.1 L1415.2,1268.3 L1418.3,1266.5 L1421.5,1264.7 L1424.6,1262.9 L1427.8,1261.0 L1430.9,1259.1 L1434.0,1257.3 L1437.2,1255.4 L1440.3,1253.4 L1443.4,1251.5 L1446.6,1249.6 L1449.7,1247.6 L1452.9,1245.7 L1456.0,1243.7 L1459.1,1241.7 L1462.3,1239.7 L1465.4,1237.7 L1468.6,1235.7 L1471.7,1233.7 L1474.8,1231.6 L1478.0,1229.6 L1481.1,1227.5 L1484.2,1225.5 L1487.4,1223.4 L1490.5,1221.4 L1493.7,1219.3 L1496.8,1217.2 L1499.9,1215.1 L1503.1,1213.1 L1506.2,1211.0 L1509.3,1208.9 L1512.5,1206.8 L1515.6,1204.7 L1518.8,1202.6 L1521.9,1200.5 L1525.0,1198.4 L1528.2,1196.3 L1531.3,1194.2 L1534.4,1192.1 L1537.6,1190.0 L1540.7,1187.9 L1543.9,1185.8 L1547.0,1183.7 L1550.1,1181.6 L1553.3,1179.5 L1556.4,1177.4 L1559.5,1175.3 L1562.7,1173.2 L1565.8,1171.1 L1569.0,1169.0 L1572.1,1166.9 L1575.2,1164.8 L1578.4,1162.7 L1581.5,1160.6 L1584.6,1158.5 L1587.8,1156.5 L1590.9,1154.4 L1594.1,1152.3 L1597.2,1150.2 L1600.3,1148.1 L1603.5,1146.1 L1606.6,1144.0 L1609.7,1141.9 L1612.9,1139.9 L1616.0,1137.8 L1619.2,1135.8 L1622.3,1133.7 L1625.4,1131.7 L1628.6,1129.7 L1631.7,1127.6 L1634.9,1125.6 L1638.0,1123.6 L1641.1,1121.6 L1644.3,1119.5 L1647.4,1117.5 L1650.5,1115.5 L1653.7,1113.5 L1656.8,1111.5 L1660.0,1109.5 L1663.1,1107.5 L1666.2,1105.6 L1669.4,1103.6 L1672.5,1101.6 L1675.6,1099.6 L1678.8,1097.7 L1681.9,1095.7 L1685.1,1093.8 L1688.2,1091.8 L1691.3,1089.9 L1694.5,1088.0 L1697.6,1086.0 L1700.7,1084.1 L1703.9,1082.2 L1707.0,1080.3 L1710.2,1078.4 L1713.3,1076.5 L1716.4,1074.6 L1719.6,1072.7 L1722.7,1070.8 L1725.8,1069.0 L1729.0,1067.1 L1732.1,1065.2 L1735.3,1063.4 L1738.4,1061.5 L1741.5,1059.7 L1744.7,1057.8 L1747.8,1056.0 L1750.9,1054.2 L1754.1,1052.4 L1757.2,1050.6 L1760.4,1048.8 L1763.5,1047.0 L1766.6,1045.2 L1769.8,1043.4 L1772.9,1041.6 L1776.0,1039.8 L1779.2,1038.1 L1782.3,1036.3 L1785.5,1034.5 L1788.6,1032.8 L1791.7,1031.1 L1794.9,1029.3 L1798.0,1027.6 L1801.1,1025.9 L1804.3,1024.2 L1807.4,1022.5 L1810.6,1020.8 L1813.7,1019.1 L1816.8,1017.4 L1820.0,1015.7 L1823.1,1014.0 L1826.3,1012.3 L1829.4,1010.7 L1832.5,1009.0 L1835.7,1007.4 L1838.8,1005.7 L1841.9,1004.1 L1845.1,1002.5 L1848.2,1000.9 L1851.4,999.2 L1854.5,997.6 L1857.6,996.0 L1860.8,994.4 L1863.9,992.9 L1867.0,991.3 L1870.2,989.7 L1873.3,988.1 L1876.5,986.6 L1879.6,985.0 L1882.7,983.5 L1885.9,981.9 L1889.0,980.4 L1892.1,978.9 L1895.3,977.3 L1898.4,975.8 L1901.6,974.3 L1904.7,972.8 L1907.8,971.3 L1911.0,969.8 L1914.1,968.4 L1917.2,966.9 L1920.4,965.4 L1923.5,964.0 L1926.7,962.5 L1929.8,961.0 L1932.9,959.6 L1936.1,958.2 L1939.2,956.7 L1942.3,955.3 L1945.5,953.9 L1948.6,952.5 L1951.8,951.1 L1954.9,949.7 L1958.0,948.3 L1961.2,946.9 L1964.3,945.5 L1967.4,944.1 L1970.6,942.8 L1973.7,941.4 L1976.9,940.1 L1980.0,938.7 L1983.1,937.4 L1986.3,936.0 L1989.4,934.7 L1992.6,933.4 L1995.7,932.0 L1998.8,930.7 L2002.0,929.4 L2005.1,928.1 L2008.2,926.8 L2011.4,925.5 L2014.5,924.2 L2017.7,922.9 L2020.8,921.6 L2023.9,920.3 L2027.1,919.1 L2030.2,917.8 L2033.3,916.5 L2036.5,915.2 L2039.6,914.0 L2042.8,912.7 L2045.9,911.5 L2049.0,910.2 L2052.2,909.0 L2055.3,907.7 L2058.4,906.4 L2061.6,905.2 L2064.7,903.9 L2067.9,902.7 L2071.0,901.4 L2074.1,900.2 L2077.3,898.9 L2080.4,897.7 L2083.5,896.4 L2086.7,895.2 L2089.8,893.9 L2093.0,892.6 L2096.1,891.3 L2099.2,890.1 L2102.4,888.8 L2105.5,887.5 L2108.6,886.2 L2111.8,884.8 L2114.9,883.5 L2118.1,882.2 L2121.2,880.8 L2124.3,879.4 L2127.5,878.0 L2130.6,876.6 L2133.7,875.2 L2136.9,873.7 L2140.0,872.3 L2143.2,870.7 L2146.3,869.2" stroke="#ff0000"/>
</g>
<g id="xticks" class="tk" text-anchor="middle">
<text x="226.5" y="1645.3">0</text>
<text x="607.6" y="1645.3">500</text>
<text x="993.1" y="1645.3">1000</text>
<text x="1378.6" y="1645.3">1500</text>
<text x="1764.2" y="1645.3">2000</text>
<text x="2145.3" y="1645.3">2500</text>
</g>
<g id="yticks" class="tk" text-anchor="end">
<text x="200.5" y="67.9">1.5</text>
<text x="197" y="320.2">1</text>
<text x="200.5" y="572.5">0.5</text>
<text x="200.5" y="830.1">0</text>
<text x="196" y="1082.4">-0.5</text>
<text x="192.5" y="1335.1">-1</text>
<text x="196" y="1587.3">-1.5</text>
</g>
<text class="lb" text-anchor="middle" x="1188" y="1730">N</text>
<text class="lb" text-anchor="middle" transform="translate(74.5,806.5) rotate(-90)">log(relative error)</text>
<g id="legend">
<rect x="1567.91" y="96.10" width="571.19" height="274.29" fill="#e4e4e4"/>
<rect x="1574.40" y="102.60" width="558.20" height="261.30" fill="#ffffff" stroke="#262626" stroke-width="4.33"/>
<rect x="1576.57" y="104.77" width="553.87" height="256.97" fill="none" stroke="#e4e4e4" stroke-width="4.33" transform="translate(0,0)"/>
<rect x="1580.89" y="109.09" width="545.21" height="248.31" fill="#ffffff"/>
<rect x="1574.40" y="102.60" width="558.20" height="261.30" fill="none" stroke="#262626" stroke-width="4.33"/>
<line x1="1590" y1="137.7" x2="1767" y2="137.7" stroke="#000000" stroke-width="13" stroke-dasharray="35.2 35.6"/>
<text class="lg" x="1780" y="156.9">Model 1, r=80</text>
<line x1="1590" y1="204.4" x2="1771.4" y2="204.4" stroke="#333333" stroke-width="13"/>
<text class="lg" x="1780" y="219.3">Model 1, r=100</text>
<line x1="1590" y1="266.3" x2="1767" y2="266.3" stroke="#ff0000" stroke-width="13" stroke-dasharray="35.2 35.6"/>
<text class="lg" x="1780" y="285.7">Model 2, r=80</text>
<line x1="1590" y1="332.5" x2="1771.4" y2="332.5" stroke="#ff0000" stroke-width="13"/>
<text class="lg" x="1780" y="347.3">Model 2, r=100</text>
</g>
</svg>
</body></html>
